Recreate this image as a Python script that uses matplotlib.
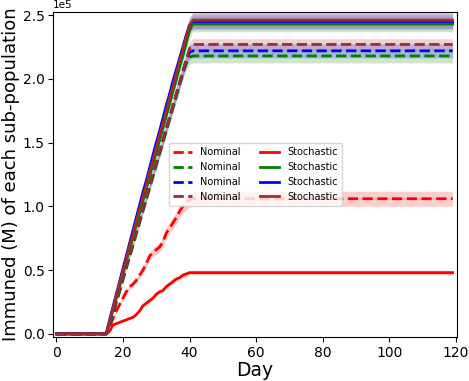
import numpy as np
import matplotlib.pyplot as plt

#=============================================================================
#                       data (values in units of 1e5)
#=============================================================================
days = np.arange(0, 120)
t_start = 15          # vaccination starts
colors = ['red', 'green', 'blue', 'brown']

# ramps for days 15..41, then plateau
nom_red = [0.00, 0.05, 0.12, 0.18, 0.23, 0.28, 0.33, 0.37, 0.39, 0.42, 0.46,
           0.50, 0.55, 0.61, 0.64, 0.66, 0.68, 0.72, 0.79, 0.83, 0.87, 0.91,
           0.96, 1.00, 1.03, 1.05, 1.06]
nom_green = [0.00, 0.06, 0.15, 0.24, 0.33, 0.42, 0.51, 0.60, 0.69, 0.78, 0.87,
             0.96, 1.05, 1.14, 1.23, 1.32, 1.41, 1.50, 1.59, 1.68, 1.77, 1.86,
             1.95, 2.04, 2.12, 2.17, 2.18]
nom_blue = [0.00, 0.08, 0.17, 0.26, 0.35, 0.44, 0.53, 0.62, 0.71, 0.80, 0.89,
            0.98, 1.07, 1.16, 1.25, 1.34, 1.43, 1.52, 1.61, 1.70, 1.79, 1.88,
            1.97, 2.06, 2.15, 2.21, 2.22]
nom_brown = [0.00, 0.08, 0.17, 0.26, 0.35, 0.44, 0.53, 0.62, 0.71, 0.80, 0.89,
             0.98, 1.07, 1.16, 1.25, 1.34, 1.43, 1.52, 1.61, 1.70, 1.79, 1.88,
             1.97, 2.06, 2.15, 2.24, 2.27]

st_red = [0.00, 0.02, 0.07, 0.08, 0.09, 0.10, 0.11, 0.12, 0.13, 0.15, 0.18,
          0.22, 0.24, 0.26, 0.28, 0.31, 0.33, 0.34, 0.37, 0.39, 0.41, 0.43,
          0.44, 0.46, 0.47, 0.48, 0.48]
st_green = [0.00, 0.09, 0.19, 0.28, 0.38, 0.47, 0.57, 0.66, 0.76, 0.85, 0.95,
            1.04, 1.14, 1.23, 1.33, 1.42, 1.52, 1.61, 1.71, 1.80, 1.90, 1.99,
            2.09, 2.18, 2.28, 2.38, 2.43]
st_blue = [0.00, 0.11, 0.21, 0.31, 0.41, 0.51, 0.61, 0.71, 0.81, 0.91, 1.01,
           1.11, 1.20, 1.30, 1.40, 1.50, 1.59, 1.69, 1.79, 1.88, 1.98, 2.07,
           2.16, 2.25, 2.34, 2.42, 2.45]
st_brown = [0.00, 0.10, 0.20, 0.30, 0.40, 0.49, 0.59, 0.69, 0.78, 0.88, 0.98,
            1.07, 1.17, 1.27, 1.36, 1.46, 1.56, 1.65, 1.75, 1.85, 1.94, 2.04,
            2.14, 2.23, 2.33, 2.42, 2.46]

# relative half width of the shaded bands
nom_band = [0.055, 0.025, 0.025, 0.02]
st_band = [0.04, 0.025, 0.025, 0.025]

#=============================================================================
#                       build full series
#=============================================================================
def full_series(ramp):
    ramp = np.array(ramp)
    n_after = len(days) - t_start - len(ramp)
    return np.concatenate([np.zeros(t_start), ramp, np.full(n_after, ramp[-1])]) * 1e5

nominal = [full_series(r) for r in [nom_red, nom_green, nom_blue, nom_brown]]
stochastic = [full_series(r) for r in [st_red, st_green, st_blue, st_brown]]

#=============================================================================
#                       plot
#=============================================================================
fig = plt.figure(figsize=(4.69, 3.81), dpi=100)
ax = fig.add_axes([0.113, 0.115, 0.862, 0.854])

for i in range(4):
    y = nominal[i]
    ax.fill_between(days, y*(1-nom_band[i]), y*(1+nom_band[i]),
                    color=colors[i], alpha=0.2, lw=0)
    ax.plot(days, y, '--', color=colors[i], lw=2, label='Nominal')
for i in range(4):
    y = stochastic[i]
    ax.fill_between(days, y*(1-st_band[i]), y*(1+st_band[i]),
                    color=colors[i], alpha=0.2, lw=0)
    ax.plot(days, y, '-', color=colors[i], lw=2, label='Stochastic')

ax.set_xlim(-1, 120.4)
ax.set_ylim(-0.026e5, 2.526e5)
ax.set_xticks([0, 20, 40, 60, 80, 100, 120])
ax.ticklabel_format(axis='y', style='sci', scilimits=(0, 0))
ax.yaxis.get_offset_text().set_fontsize(7.5)
ax.tick_params(labelsize=10, pad=2.5)
ax.set_xlabel('Day', fontsize=13.5, labelpad=1)
ax.set_ylabel('Immuned (M) of each sub-population', fontsize=13, labelpad=2)
ax.legend(loc='center', ncol=2, fontsize=7)

fig.savefig('out.png', dpi=100)
